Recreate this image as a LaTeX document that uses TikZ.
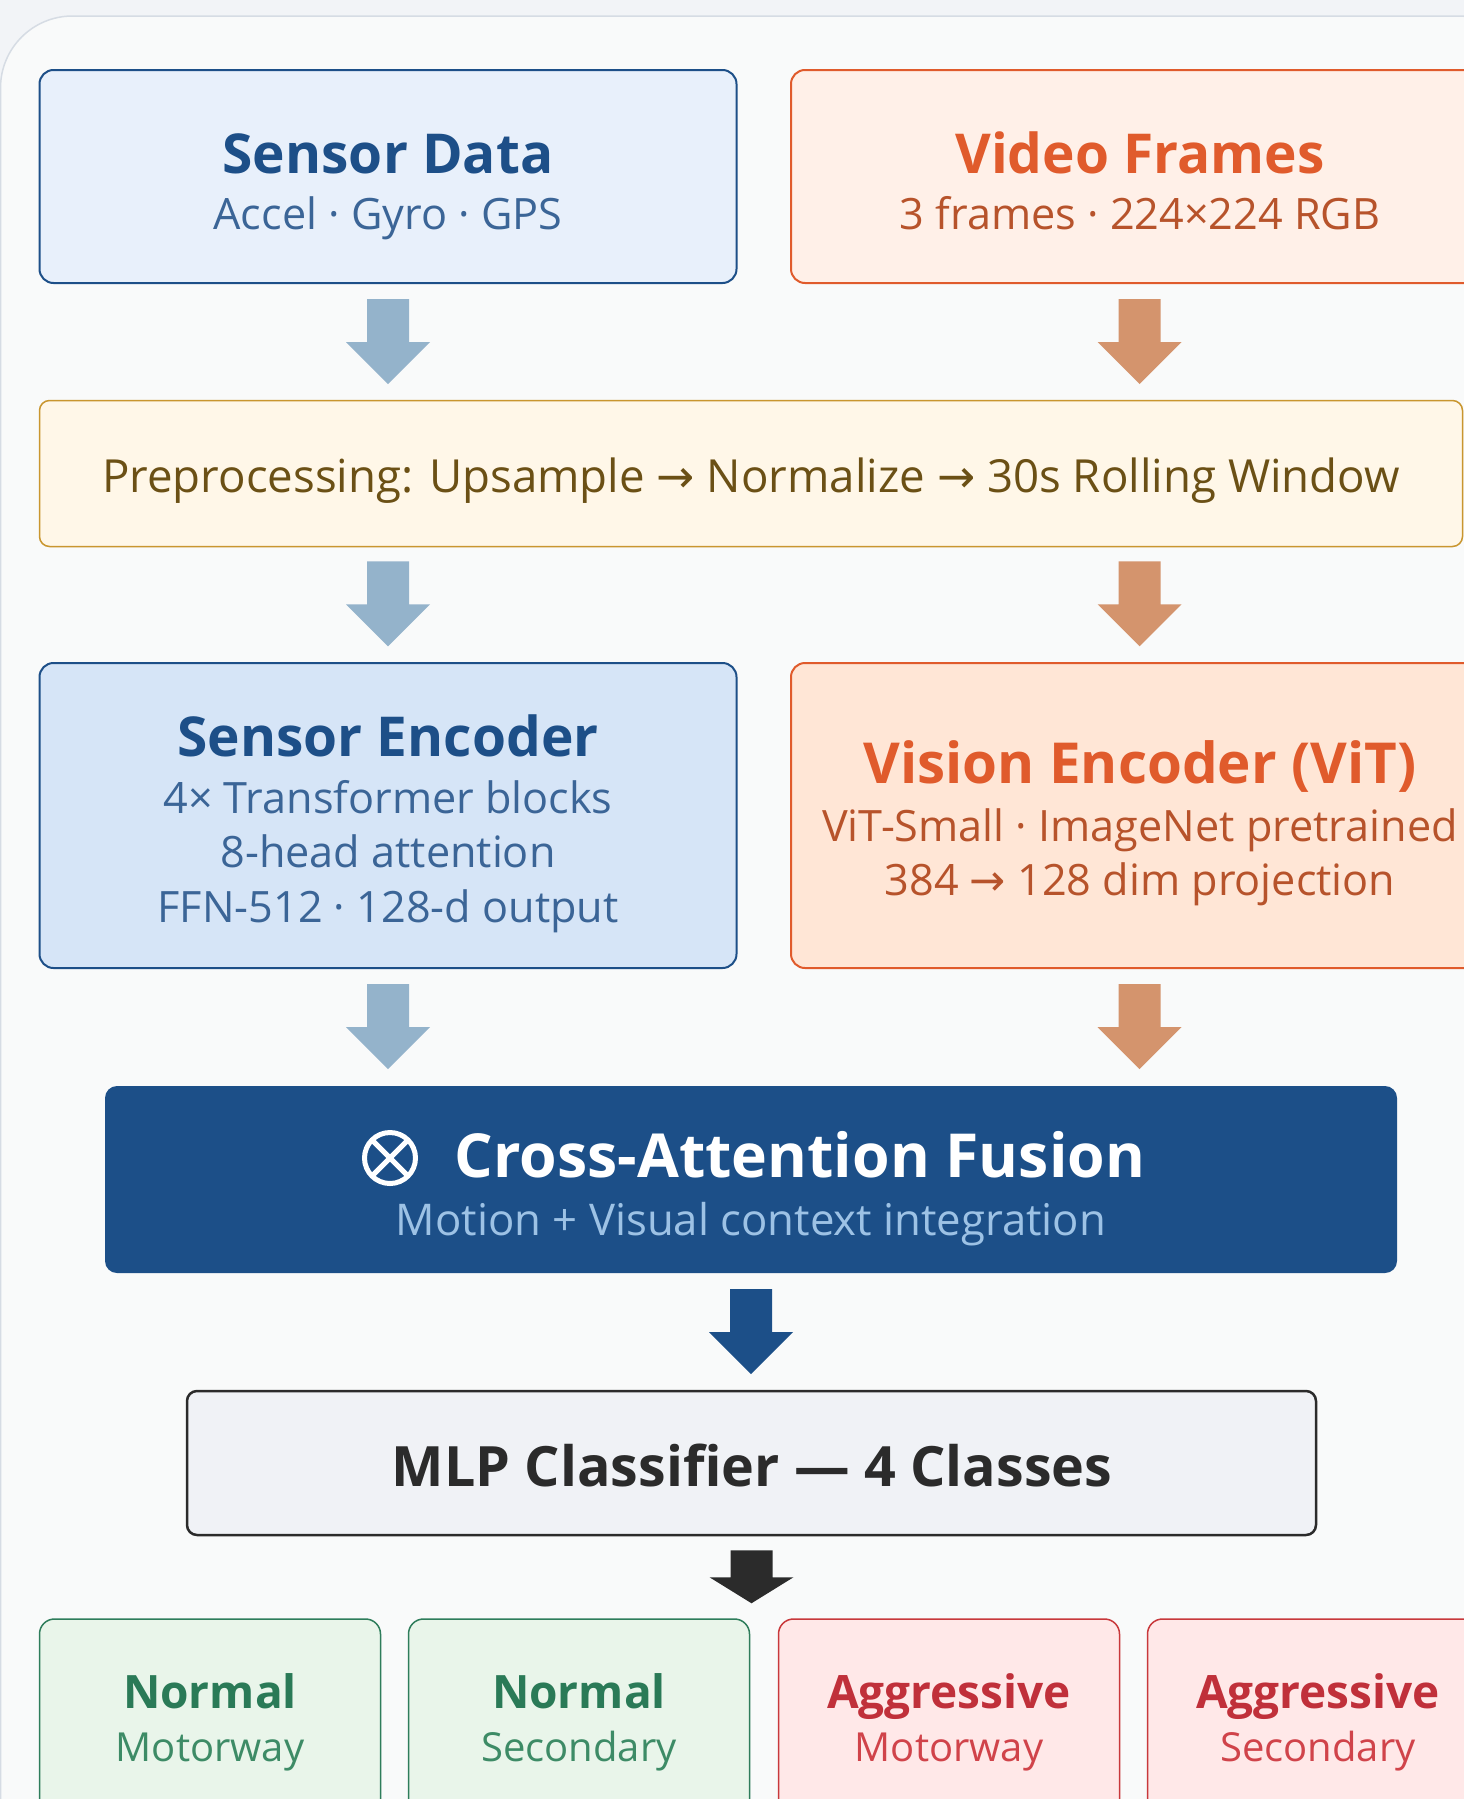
\documentclass[tikz,border=0pt]{standalone}
\usepackage{fontspec}
\setmainfont{Open Sans}
\newfontfamily\arrowfont{DejaVu Sans}
\usetikzlibrary{positioning, calc}

\definecolor{pagebg}{HTML}{F2F4F7}
\definecolor{panelbg}{HTML}{F9FAFA}
\definecolor{panelline}{HTML}{D6DCE4}
\definecolor{sensline}{HTML}{1D4F88}
\definecolor{senstext}{HTML}{3B6597}
\definecolor{sensfill}{HTML}{E8F0FB}
\definecolor{sensfilldk}{HTML}{D6E5F7}
\definecolor{sensarrow}{HTML}{94B3CB}
\definecolor{vidline}{HTML}{E05B2C}
\definecolor{vidtext}{HTML}{B7532B}
\definecolor{vidfill}{HTML}{FFF0E8}
\definecolor{vidfilldk}{HTML}{FFE6D6}
\definecolor{vidarrow}{HTML}{D4946D}
\definecolor{prepline}{HTML}{C9962F}
\definecolor{preptext}{HTML}{6B5015}
\definecolor{prepfill}{HTML}{FFF7E8}
\definecolor{fusefill}{HTML}{1C4F88}
\definecolor{fusesub}{HTML}{9DC2E5}
\definecolor{mlpline}{HTML}{2B2B2B}
\definecolor{mlpfill}{HTML}{F0F2F6}
\definecolor{okline}{HTML}{2E7D5B}
\definecolor{oktitle}{HTML}{2A7A57}
\definecolor{oktext}{HTML}{3D8B66}
\definecolor{okfill}{HTML}{E9F5EA}
\definecolor{badline}{HTML}{C8383B}
\definecolor{badtitle}{HTML}{C0303A}
\definecolor{badtext}{HTML}{D0434A}
\definecolor{badfill}{HTML}{FFE8E8}

\tikzset{
  box/.style={draw, rounded corners=14pt, line width=2pt, inner sep=0pt,
              minimum width=697pt, minimum height=213pt},
  ttl/.style={anchor=base, inner sep=0pt, font=\fontsize{55}{60}\selectfont\bfseries},
  sub/.style={anchor=base, inner sep=0pt, font=\fontsize{43.2}{50}\selectfont},
  cls/.style={draw, rounded corners=15pt, line width=1.5pt, inner sep=0pt,
              minimum width=341pt, minimum height=260pt},
  clsttl/.style={anchor=base, inner sep=0pt, font=\fontsize{46}{50}\selectfont\bfseries},
  clssub/.style={anchor=base, inner sep=0pt, font=\fontsize{40}{44}\selectfont},
  pics/blockarrow/.style n args={3}{code={
    \fill[#1] (-21,0) -- (21,0) -- (21,#2) -- (42,#2) -- (0,#3) -- (-42,#2) -- (-21,#2) -- cycle;
  }},
}

\begin{document}
\begin{tikzpicture}[x=1pt, y=-1pt]
  \useasboundingbox (0,0) rectangle (1464,1799);
  \clip (0,0) rectangle (1464,1799);
  \fill[pagebg] (0,0) rectangle (1464,1799);
  \draw[fill=panelbg, draw=panelline, line width=1.5pt, rounded corners=72pt]
    (0.5,16) rectangle (1530,1900);

  % inputs
  \node[box, draw=sensline, fill=sensfill] (sdata) at (388,176.5) {};
  \node[ttl, text=sensline] (sdatattl) at (388,173) {Sensor Data};
  \node[sub, text=senstext] (sdatasub) at (388,229) {Accel · Gyro · GPS};

  \node[box, draw=vidline, fill=vidfill] (vid) at (1139.5,176.5) {};
  \node[ttl, text=vidline] (vidttl) at (1140,173) {Video Frames};
  \node[sub, text=vidtext] (vidsub) at (1140,229) {3 frames · 224×224 RGB};

  % shared preprocessing
  \node[box, draw=prepline, fill=prepfill, line width=1.5pt, rounded corners=10pt,
        minimum width=1423pt, minimum height=146pt] (prep) at (751,473.5) {};
  \node[sub, text=preptext, font=\fontsize{45.6}{50}\selectfont] (preptxt) at (751,492)
    {Preprocessing: Upsample {\arrowfont→} Normalize {\arrowfont→} 30s Rolling Window};

  % encoders
  \node[box, draw=sensline, fill=sensfilldk, minimum height=305pt] (senc) at (388,815.5) {};
  \node[ttl, text=sensline] (sencttl) at (388,756) {Sensor Encoder};
  \node[sub, text=senstext] (senca) at (388,813) {4× Transformer blocks};
  \node[sub, text=senstext] (sencb) at (388,867) {8-head attention};
  \node[sub, text=senstext] (sencc) at (388,922) {FFN-512 · 128-d output};

  \node[box, draw=vidline, fill=vidfilldk, minimum height=305pt] (venc) at (1139.5,815.5) {};
  \node[ttl, text=vidline, font=\fontsize{56.5}{60}\selectfont\bfseries] (vencttl) at (1140,783)
    {Vision Encoder (ViT)};
  \node[sub, text=vidtext] (venca) at (1140,841) {ViT-Small · ImageNet pretrained};
  \node[sub, text=vidtext] (vencb) at (1140,895) {384 {\arrowfont→} 128 dim projection};

  % fusion
  \node[fill=fusefill, rounded corners=12pt, inner sep=0pt,
        minimum width=1292pt, minimum height=187pt] (fuse) at (751,1179.5) {};
  \node[ttl, text=white, font=\fontsize{60.7}{66}\selectfont\bfseries] (fusettl) at (800,1177)
    {Cross-Attention Fusion};
  \node[circle, draw=white, line width=5pt, minimum size=51pt, inner sep=0pt, outer sep=0pt]
    (otimes) at (390,1158) {};
  \draw[white, line width=5pt] (otimes.45) -- (otimes.225) (otimes.135) -- (otimes.315);
  \node[sub, text=fusesub, font=\fontsize{43.7}{50}\selectfont] (fusesubtxt) at (751,1235)
    {Motion + Visual context integration};

  % classifier
  \node[draw=mlpline, fill=mlpfill, line width=2.5pt, rounded corners=10pt, inner sep=0pt,
        minimum width=1129pt, minimum height=144pt] (mlp) at (751.5,1463) {};
  \node[ttl, text=mlpline, font=\fontsize{55.6}{60}\selectfont\bfseries] (mlpttl) at (752,1486)
    {MLP Classifier — 4 Classes};

  % output classes
  \foreach \x/\kind/\word/\road [count=\i] in {210/ok/Normal/Motorway, 579/ok/Normal/Secondary,
      949/bad/Aggressive/Motorway, 1318/bad/Aggressive/Secondary} {
    \node[cls, draw=\kind line, fill=\kind fill] (cls\i) at (\x,1749) {};
    \node[clsttl, text=\kind title] (cls\i t) at (\x,1708) {\word};
    \node[clssub, text=\kind text] (cls\i s) at (\x,1761) {\road};
  }

  % flow arrows
  \pic at ($(sdata.south)+(0,15)$) {blockarrow={sensarrow}{43}{85}};
  \pic at ($(vid.south)+(0,15)$) {blockarrow={vidarrow}{43}{85}};
  \pic at ($(sdata.south |- prep.south)+(0,14)$) {blockarrow={sensarrow}{43}{85}};
  \pic at ($(vid.south |- prep.south)+(0,14)$) {blockarrow={vidarrow}{43}{85}};
  \pic at ($(senc.south)+(0,15)$) {blockarrow={sensarrow}{43}{85}};
  \pic at ($(venc.south)+(0,15)$) {blockarrow={vidarrow}{43}{85}};
  \pic at ($(fuse.south)+(0,16)$) {blockarrow={fusefill}{43}{85}};
  \pic at ($(mlp.south)+(0,14)$) {blockarrow={mlpline}{27}{53}};
\end{tikzpicture}
\end{document}
